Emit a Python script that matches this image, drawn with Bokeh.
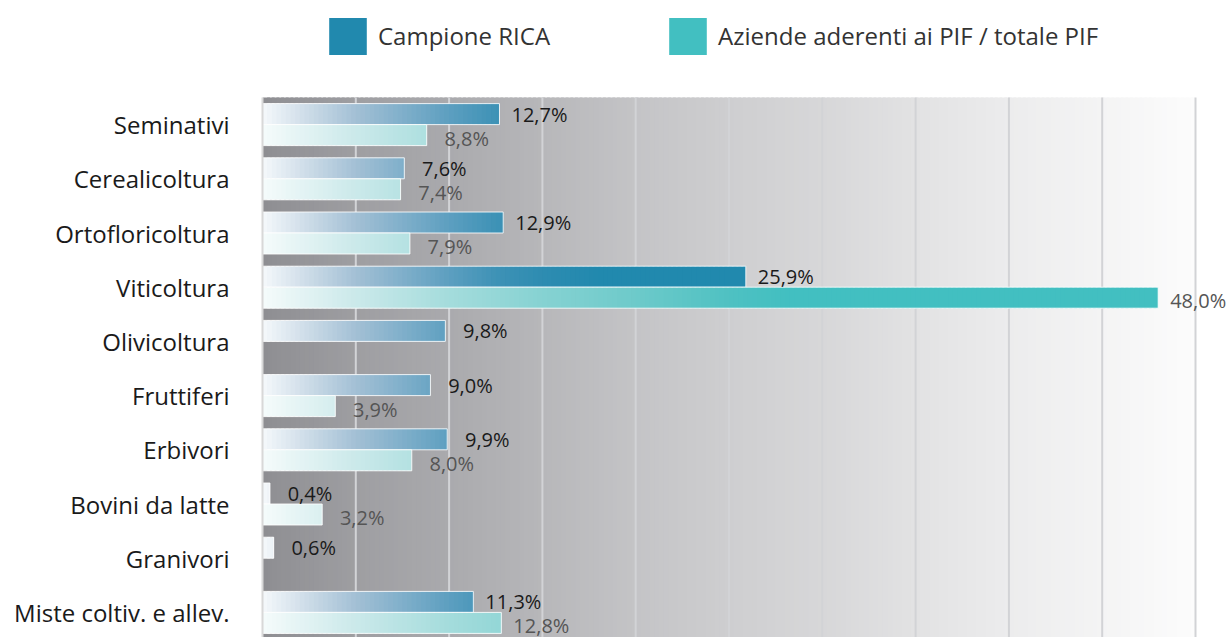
import numpy as np
from bokeh.plotting import figure
from bokeh.models import Range1d, FixedTicker, Legend, LegendItem, ColumnDataSource
from bokeh.core.properties import value
from bokeh.embed import file_html
from bokeh.resources import INLINE

# ---------------- data ----------------
categories = ["Seminativi", "Cerealicoltura", "Ortofloricoltura", "Viticoltura",
              "Olivicoltura", "Fruttiferi", "Erbivori", "Bovini da latte",
              "Granivori", "Miste coltiv. e allev."]
rica = [12.7, 7.6, 12.9, 25.9, 9.8, 9.0, 9.9, 0.4, 0.6, 11.3]
pif = [8.8, 7.4, 7.9, 48.0, None, 3.9, 8.0, 3.2, None, 12.8]
series_names = ["Campione RICA", "Aziende aderenti ai PIF / totale PIF"]
grid_values = [5, 10, 15, 20, 25, 30, 35, 40, 45, 50]

# ---------------- style ----------------
FONT = value("Open Sans")
BLUE = "#2189ae"
TEAL = "#42bfc1"
W, H = 1229, 637
LEFT = 262
BAND = 54.2           # px per category
BAR_PX = 21           # px per bar
TOP_PX = 97           # px from figure top to plot area
X_MAX = 50
X_MAX_PX = 933

blue_stops = [(0, (245, 248, 251)), (2.5, (203, 219, 231)), (5, (163, 192, 213)),
              (7.5, (128, 175, 202)), (10, (93, 159, 192)), (12.5, (62, 146, 182)),
              (15, (46, 140, 177)), (18, (33, 137, 174))]
teal_stops = [(0, (245, 251, 251)), (5, (203, 233, 234)), (10, (164, 220, 220)),
              (15, (134, 210, 210)), (20, (109, 202, 202)), (25, (79, 193, 194)),
              (28, (66, 191, 193))]
bg_stops = [(0, 142), (5, 158), (10, 170), (15, 183), (20, 196), (25, 206),
            (30, 215), (35, 226), (40, 236), (45, 244), (50, 252)]


def interp_rgb(stops, x):
    xs = [s[0] for s in stops]
    out = []
    for k in range(3):
        out.append(int(round(np.interp(x, xs, [s[1][k] for s in stops]))))
    return "#%02x%02x%02x" % tuple(out)


def bg_color(x):
    v = np.interp(x, [s[0] for s in bg_stops], [s[1] for s in bg_stops])
    b = min(255, v + 4 * (1 - x / 50))
    return "#%02x%02x%02x" % (int(round(v)), int(round(v)), int(round(b)))


frame_w = W - LEFT
x_end = X_MAX * frame_w / X_MAX_PX
y_top = -0.5 - TOP_PX / BAND
y_bot = y_top + H / BAND
h = BAR_PX / BAND
step = 0.25
overlap = 0.15

p = figure(width=W, height=H, x_range=Range1d(0, x_end), y_range=Range1d(y_bot, y_top),
           x_axis_location=None, y_axis_location="left",
           toolbar_location=None, output_backend="svg",
           min_border_left=LEFT, min_border_right=0, min_border_top=0, min_border_bottom=0,
           outline_line_color=None, background_fill_color="white", border_fill_color="white")
p.grid.visible = False

# background gradient
bl = np.arange(0, X_MAX, step)
br = np.minimum(bl + step + overlap, X_MAX)
bsrc = ColumnDataSource(dict(left=bl, right=br, c=[bg_color(x + step / 2) for x in bl]))
p.quad(left="left", right="right", top=-0.5, bottom=len(categories) + 1,
       fill_color="c", line_color=None, source=bsrc)

# gridlines
p.segment(x0=grid_values, x1=grid_values, y0=-0.5, y1=len(categories) + 1,
          line_color="#d2d3d6", line_width=2)


def gradient_bars(vals, stops, offset_sign):
    L, R, T, B, C = [], [], [], [], []
    for i, v in enumerate(vals):
        if v is None:
            continue
        edges = np.append(np.arange(0, v, step), v)
        for a, b in zip(edges[:-1], edges[1:]):
            if b - a <= 1e-9:
                continue
            L.append(a); R.append(min(b + overlap, v))
            if offset_sign < 0:
                T.append(i - h); B.append(i)
            else:
                T.append(i); B.append(i + h)
            C.append(interp_rgb(stops, (a + b) / 2))
    src = ColumnDataSource(dict(left=L, right=R, top=T, bottom=B, c=C))
    p.quad(left="left", right="right", top="top", bottom="bottom",
           fill_color="c", line_color=None, source=src)
    idx = [i for i, v in enumerate(vals) if v is not None]
    vv = [vals[i] for i in idx]
    if offset_sign < 0:
        tops = [i - h for i in idx]; bots = [i for i in idx]
    else:
        tops = [i for i in idx]; bots = [i + h for i in idx]
    p.quad(left=0, right=vv, top=tops, bottom=bots, fill_color=None,
           line_color="white", line_width=1, line_alpha=0.85)
    return idx, vv


idx_b, v_b = gradient_bars(rica, blue_stops, -1)
idx_t, v_t = gradient_bars(pif, teal_stops, 1)


def fmt(v):
    return ("%.1f" % v).replace(".", ",") + "%"


p.text(x=v_b, y=[i - h / 2 for i in idx_b], text=[fmt(v) for v in v_b],
       x_offset=40, y_offset=0, text_align="center", text_baseline="middle",
       text_font=FONT, text_font_size="20px", text_color="#1a1a1a")
p.text(x=v_t, y=[i + h / 2 for i in idx_t], text=[fmt(v) for v in v_t],
       x_offset=40, y_offset=3, text_align="center", text_baseline="middle",
       text_font=FONT, text_font_size="20px", text_color="#555555")

# y axis
ax = p.yaxis[0]
ax.ticker = FixedTicker(ticks=list(range(len(categories))))
ax.major_label_overrides = {i: c for i, c in enumerate(categories)}
ax.major_label_text_font = "Open Sans"
ax.major_label_text_font_size = "24px"
ax.major_label_text_color = "#1a1a1a"
ax.major_tick_line_color = None
ax.minor_tick_line_color = None
ax.major_tick_out = 0
ax.major_tick_in = 0
ax.major_label_standoff = 33
ax.axis_line_color = "#d8d8d8"
ax.axis_line_width = 2
ax.bounds = (-0.5, len(categories) + 1)

# legend (Bokeh insets area glyphs by 10% of the glyph box)
nan = [float("nan")]
r1 = p.quad(left=nan, right=nan, top=nan, bottom=nan, fill_color=BLUE, line_color=None)
r2 = p.quad(left=nan, right=nan, top=nan, bottom=nan, fill_color=TEAL, line_color=None)
legend = Legend(items=[LegendItem(label=series_names[0], renderers=[r1]),
                       LegendItem(label=series_names[1], renderers=[r2])],
                location=(62, H - 58.6), orientation="horizontal",
                glyph_width=47, glyph_height=46, label_standoff=7, spacing=114,
                padding=0, margin=0, border_line_color=None, background_fill_alpha=0,
                label_text_font="Open Sans", label_text_font_size="24px",
                label_text_color="#333333", label_height=46)
p.add_layout(legend)

open("out.html", "w").write(file_html(p, INLINE))
